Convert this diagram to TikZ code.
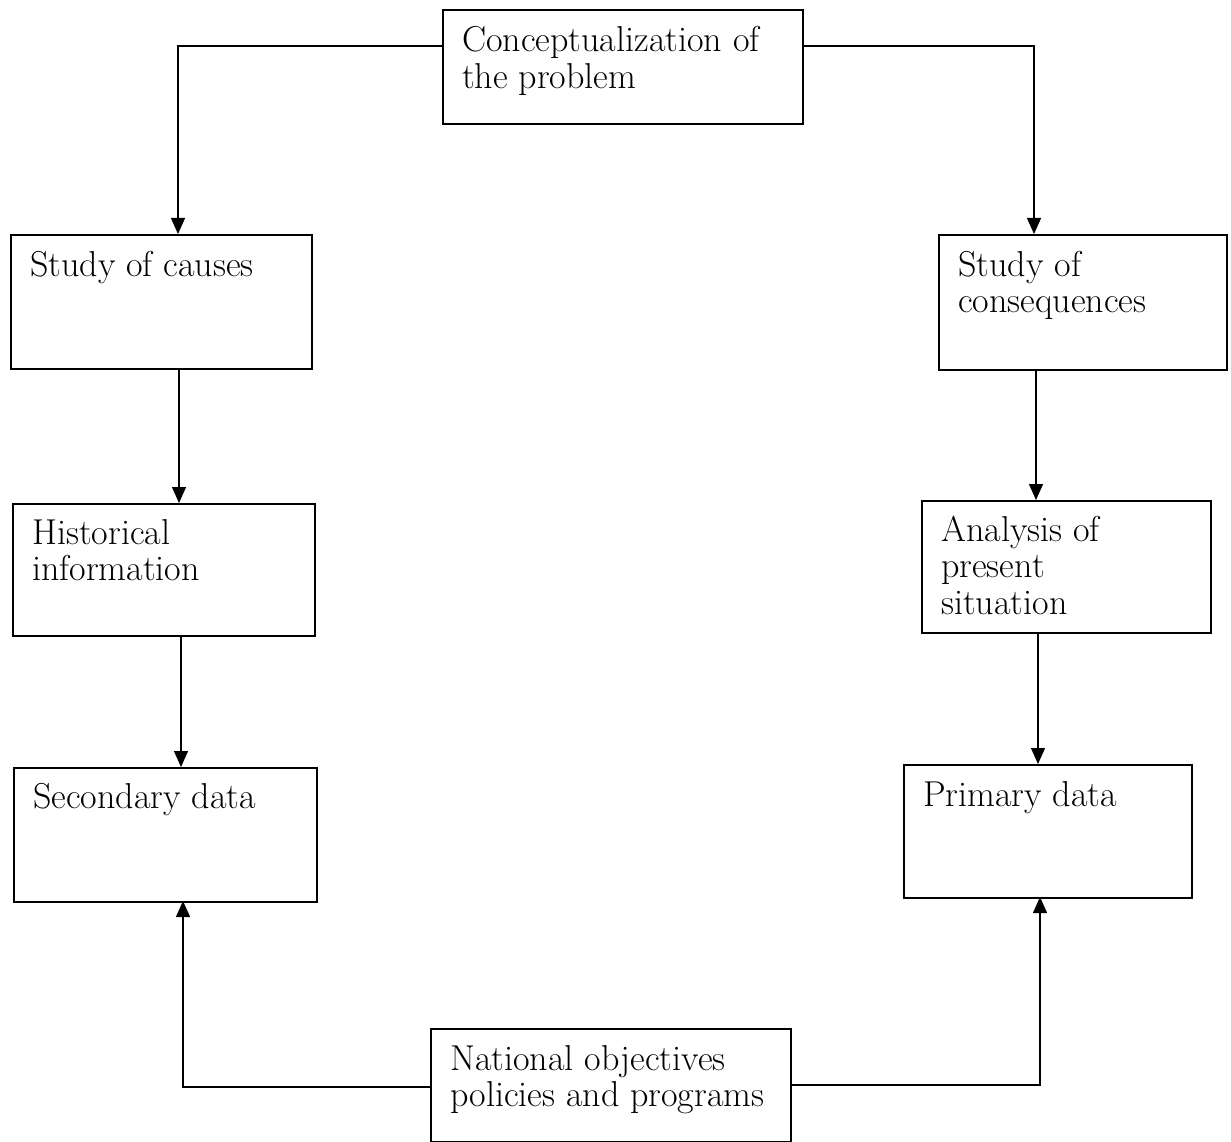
\documentclass[tikz,border=0pt]{standalone}
\usetikzlibrary{arrows.meta}
\begin{document}
\begin{tikzpicture}[x=1pt,y=-1pt,
  box/.style={draw, line width=1.6pt, anchor=north west, inner sep=0pt},
  txt/.style={anchor=base west, inner sep=0pt, font=\fontsize{36}{36.5}\selectfont},
  conn/.style={line width=1.3pt, -{Triangle[length=16pt,width=14pt]}}]
\useasboundingbox (0,0) rectangle (1231,1142);
% boxes
\node[box, minimum width=360pt, minimum height=114pt] (top) at (442,9) {};
\node[box, minimum width=301pt, minimum height=134pt] (causes) at (10,234) {};
\node[box, minimum width=288pt, minimum height=135pt] (cons) at (938,234) {};
\node[box, minimum width=302pt, minimum height=132pt] (hist) at (12,503) {};
\node[box, minimum width=289pt, minimum height=132pt] (anal) at (921,500) {};
\node[box, minimum width=303pt, minimum height=134pt] (sec) at (13,767) {};
\node[box, minimum width=288pt, minimum height=133pt] (prim) at (903,764) {};
\node[box, minimum width=360pt, minimum height=113pt] (bot) at (430,1028) {};
% texts
\node[txt] (topT) at (462,52) {\parbox[t]{400pt}{Conceptualization of\\the problem}};
\node[txt] (causesT) at (30,276) {\parbox[t]{400pt}{Study of causes}};
\node[txt] (consT) at (958,276) {\parbox[t]{400pt}{Study of\\consequences}};
\node[txt] (histT) at (32,544) {\parbox[t]{400pt}{Historical\\information}};
\node[txt] (analT) at (941,541) {\parbox[t]{400pt}{Analysis of\\present\\situation}};
\node[txt] (secT) at (33,808) {\parbox[t]{400pt}{Secondary data}};
\node[txt] (primT) at (923,806) {\parbox[t]{400pt}{Primary data}};
\node[txt] (botT) at (450,1070) {\parbox[t]{400pt}{National objectives\\policies and programs}};
% connector attachment points
\coordinate (topL) at (442,46);
\coordinate (topR) at (802,46);
\coordinate (causesIn) at (178,234);
\coordinate (consIn) at (1034,234);
\coordinate (causesOut) at (179,368);
\coordinate (histIn) at (179,503);
\coordinate (consOut) at (1036,369);
\coordinate (analIn) at (1036,500);
\coordinate (histOut) at (181,635);
\coordinate (secIn) at (181,767);
\coordinate (analOut) at (1038,632);
\coordinate (primIn) at (1038,764);
\coordinate (botL) at (430,1087);
\coordinate (botR) at (790,1085);
\coordinate (secOut) at (183,901);
\coordinate (primOut) at (1040,897);
% connectors
\draw[conn] (topL) -| (causesIn);
\draw[conn] (topR) -| (consIn);
\draw[conn] (causesOut) -- (histIn);
\draw[conn] (consOut) -- (analIn);
\draw[conn] (histOut) -- (secIn);
\draw[conn] (analOut) -- (primIn);
\draw[conn] (botL) -| (secOut);
\draw[conn] (botR) -| (primOut);
\end{tikzpicture}
\end{document}
